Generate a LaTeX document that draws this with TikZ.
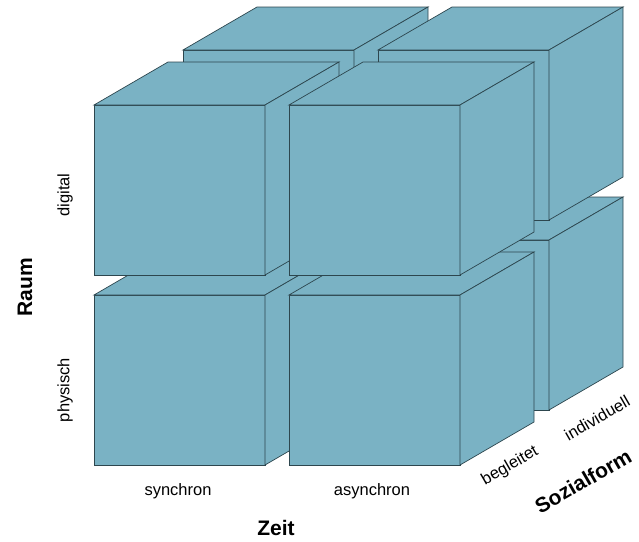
\documentclass[tikz,border=0pt]{standalone}
\usepackage{fontspec}
\setmainfont{Liberation Sans}
\definecolor{cubefill}{RGB}{122,178,196}
\definecolor{cubeline}{RGB}{45,70,78}
\newcommand\mycube[2]{%
  \filldraw[cubeface] (#1,#2) rectangle ++(171,170);
  \filldraw[cubeface] (#1,#2) -- ++(74,-43) -- ++(171,0) -- ++(-74,43) -- cycle;
  \filldraw[cubeface] (#1+171,#2) -- ++(74,-43) -- ++(0,170) -- ++(-74,43) -- cycle;
}
\begin{document}
\begin{tikzpicture}[x=1pt,y=-1pt,
  cubeface/.style={fill=cubefill,draw=cubeline,line width=0.7pt,line join=miter},
  lbl/.style={font=\fontsize{16.5}{18}\selectfont,inner sep=0pt},
  axis/.style={font=\fontsize{21}{24}\selectfont\bfseries,inner sep=0pt}]
\useasboundingbox (0,0) rectangle (639,541);
% back layer
\mycube{183}{240}
\mycube{378}{240}
\mycube{183}{50}
\mycube{378}{50}
% front layer
\mycube{94}{295}
\mycube{289}{295}
\mycube{94}{105}
\mycube{289}{105}
% labels
\node[lbl,rotate=90] (digital) at (65,195) {digital};
\node[lbl,rotate=90] (physisch) at (65,390) {physisch};
\node[axis,rotate=90] (raum) at (25,287) {Raum};
\node[lbl] (synchron) at (178,491) {synchron};
\node[lbl] (asynchron) at (372,491) {asynchron};
\node[axis] (zeit) at (276,528) {Zeit};
\node[lbl,rotate=30] (begleitet) at (510,466) {begleitet};
\node[lbl,rotate=30] (individuell) at (597,418) {individuell};
\node[axis,rotate=30] (sozial) at (583,481) {Sozialform};
\end{tikzpicture}
\end{document}
